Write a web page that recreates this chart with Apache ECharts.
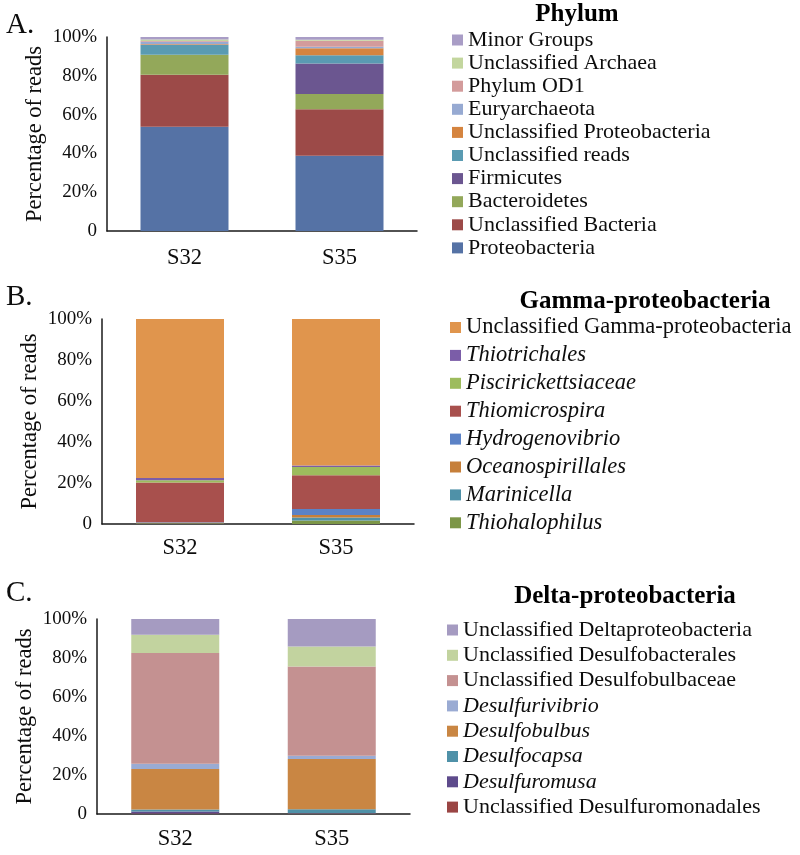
<!DOCTYPE html>
<html>
<head>
<meta charset="utf-8">
<script src="https://cdn.jsdelivr.net/npm/echarts@6/dist/echarts.min.js"></script>
<style>
html,body{margin:0;padding:0;background:#fff;}
#chart{width:800px;height:855px;}
</style>
</head>
<body>
<div id="chart"></div>
<script>
// ---------- DATA ----------
const categories = ['S32', 'S35'];
const yTickValues = [0, 20, 40, 60, 80, 100];
const yTickLabels = ['0', '20%', '40%', '60%', '80%', '100%'];

// Panel A (stack order bottom -> top)
const phylumNames = ['Proteobacteria', 'Unclassified Bacteria', 'Bacteroidetes', 'Firmicutes',
  'Unclassified reads', 'Unclassified Proteobacteria', 'Euryarchaeota', 'Phylum OD1',
  'Unclassified Archaea', 'Minor Groups'];
const phylumS32 = [53.8, 26.8, 10.3, 0.0, 5.0, 0.3, 1.3, 0.5, 0.7, 1.3];
const phylumS35 = [38.8, 23.9, 7.9, 15.8, 4.2, 3.6, 0.8, 3.1, 0.5, 1.4];

// Panel B
const gammaNames = ['Thiohalophilus', 'Marinicella', 'Oceanospirillales', 'Hydrogenovibrio',
  'Thiomicrospira', 'Piscirickettsiaceae', 'Thiotrichales', 'Unclassified Gamma-proteobacteria'];
const gammaS32 = [0.2, 0.2, 0.2, 0.3, 19.4, 1.0, 1.2, 77.5];
const gammaS35 = [1.7, 1.5, 1.2, 2.9, 16.5, 4.0, 0.7, 71.5];

// Panel C
const deltaNames = ['Unclassified Desulfuromonadales', 'Desulfuromusa', 'Desulfocapsa', 'Desulfobulbus',
  'Desulfurivibrio', 'Unclassified Desulfobulbaceae', 'Unclassified Desulfobacterales',
  'Unclassified Deltaproteobacteria'];
const deltaS32 = [0.3, 1.0, 1.0, 20.8, 2.7, 56.8, 9.3, 8.1];
const deltaS35 = [0.2, 0.2, 2.0, 25.8, 1.7, 45.8, 10.2, 14.1];

const italicNames = ['Thiotrichales', 'Piscirickettsiaceae', 'Thiomicrospira', 'Hydrogenovibrio',
  'Oceanospirillales', 'Marinicella', 'Thiohalophilus', 'Desulfurivibrio', 'Desulfobulbus',
  'Desulfocapsa', 'Desulfuromusa'];

// ---------- STYLES ----------
const phylumColors = ['#5572A5', '#9C4A48', '#93A85A', '#6B5690', '#5A9BB2', '#D5843F',
  '#97AAD2', '#D39B9B', '#C3D69E', '#A99DC6'];
const gammaColors = ['#7C9647', '#4F91A8', '#C67F3A', '#5B82C6', '#A8504D', '#9DBC5D',
  '#7B5DA8', '#E0954D'];
const deltaColors = ['#9A4544', '#5E4B8C', '#4F91A8', '#C98643', '#9AABD3', '#C49191',
  '#C2D39F', '#A59BC1'];

const FONT = '"Liberation Serif", "Times New Roman", serif';
const TXT = '#0d0d0d';

const panels = [
  {names: phylumNames, s32: phylumS32, s35: phylumS35, colors: phylumColors,
   grid: {left: 107, top: 37, width: 310, height: 194}, labelMargin: 16,
   legend: {left: 452, top: 29, gap: 1.1, size: 22}, title: 'Phylum', titleX: 577, titleY: 2,
   letter: 'A.', letterY: 11},
  {names: gammaNames, s32: gammaS32, s35: gammaS35, colors: gammaColors,
   grid: {left: 102, top: 319, width: 312, height: 205}, labelMargin: 13,
   legend: {left: 450, top: 316, gap: 4.9, size: 22.5}, title: 'Gamma-proteobacteria', titleX: 645, titleY: 289,
   letter: 'B.', letterY: 283},
  {names: deltaNames, s32: deltaS32, s35: deltaS35, colors: deltaColors,
   grid: {left: 97, top: 619, width: 313, height: 195}, labelMargin: 14,
   legend: {left: 447, top: 619, gap: 3.3, size: 22}, title: 'Delta-proteobacteria', titleX: 625, titleY: 584,
   letter: 'C.', letterY: 579}
];

const grids = [], xAxes = [], yAxes = [], series = [], legends = [], titles = [];
panels.forEach((p, i) => {
  grids.push(Object.assign({containLabel: false}, p.grid));
  xAxes.push({
    type: 'category', gridIndex: i, data: categories,
    axisLine: {lineStyle: {color: '#1a1a1a', width: 1.5}},
    axisTick: {show: false},
    axisLabel: {fontFamily: FONT, fontSize: 22.5, color: TXT, margin: p.labelMargin}
  });
  yAxes.push({
    type: 'value', gridIndex: i, min: 0, max: 100, interval: 20,
    name: 'Percentage of reads', nameLocation: 'middle', nameGap: 60,
    nameTextStyle: {fontFamily: FONT, fontSize: 22.5, color: TXT},
    axisLine: {show: true, lineStyle: {color: '#1a1a1a', width: 1.5}},
    axisTick: {show: false},
    splitLine: {show: false},
    axisLabel: {fontFamily: FONT, fontSize: 19, color: TXT, margin: 10,
      formatter: v => yTickLabels[yTickValues.indexOf(v)]}
  });
  p.names.forEach((n, k) => {
    series.push({
      type: 'bar', name: n, stack: 'st' + i, xAxisIndex: i, yAxisIndex: i,
      data: [p.s32[k], p.s35[k]], barWidth: 88,
      itemStyle: {color: p.colors[k]},
      emphasis: {disabled: true}
    });
  });
  legends.push({
    orient: 'vertical', left: p.legend.left, top: p.legend.top, padding: 0,
    itemWidth: 11, itemHeight: 11, itemGap: p.legend.gap,
    icon: 'rect', selectedMode: false,
    data: p.names.slice().reverse(),
    formatter: n => italicNames.includes(n) ? '{i|' + n + '}' : n,
    textStyle: {fontFamily: FONT, fontSize: p.legend.size, color: TXT, lineHeight: 22,
      rich: {i: {fontFamily: FONT, fontSize: p.legend.size, fontStyle: 'italic', color: TXT, lineHeight: 22}}}
  });
  titles.push({
    text: p.title, left: p.titleX, top: p.titleY, textAlign: 'center', padding: 0,
    textStyle: {fontFamily: FONT, fontSize: 25, fontWeight: 'bold', color: '#000'}
  });
  titles.push({
    text: p.letter, left: 6, top: p.letterY, padding: 0,
    textStyle: {fontFamily: FONT, fontSize: 29, fontWeight: 'normal', color: TXT}
  });
});

const chart = echarts.init(document.getElementById('chart'), null, {renderer: 'canvas'});
chart.setOption({
  backgroundColor: '#fff',
  animation: false,
  title: titles,
  grid: grids,
  xAxis: xAxes,
  yAxis: yAxes,
  legend: legends,
  series: series
});
</script>
</body>
</html>
